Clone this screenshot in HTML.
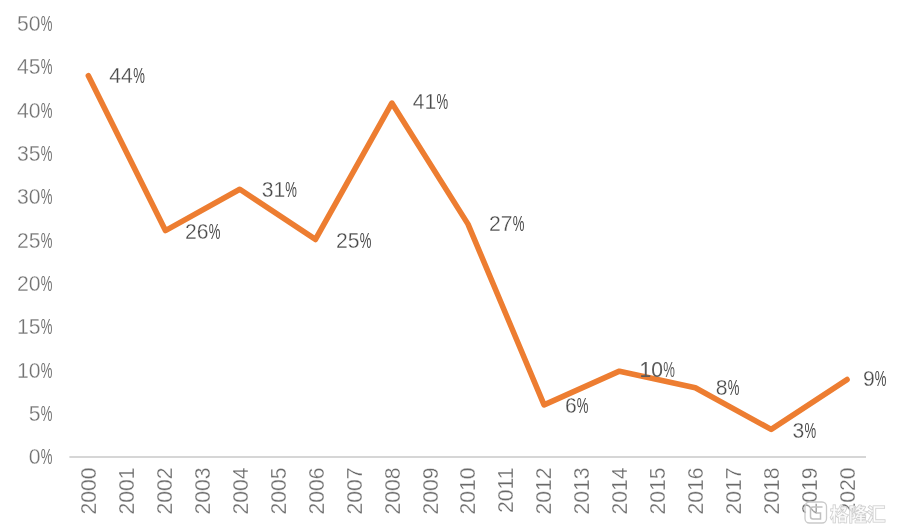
<!DOCTYPE html>
<html><head><meta charset="utf-8"><style>
html,body{margin:0;padding:0;background:#fff;width:900px;height:530px;overflow:hidden}
svg{display:block;filter:blur(0.35px)}
text{font-family:"Liberation Sans","Noto Sans CJK SC",sans-serif;font-size:22.5px}
.t text{stroke:#fff;stroke-width:0.3px}
.t text.p{stroke:none}
</style></head><body>
<svg width="900" height="530" viewBox="0 0 900 530">
<defs><filter id="wmsh" x="-10%" y="-20%" width="120%" height="140%"><feGaussianBlur stdDeviation="0.5"/></filter></defs>
<rect width="900" height="530" fill="#fff"/>
<g class="t">
<text transform="translate(17.01,31.15) scale(0.94,1)" fill="#737373">50</text><text transform="translate(40.81,31.15) scale(0.583,1)" fill="#737373" class="p">%</text>
<text transform="translate(17.07,74.46) scale(0.94,1)" fill="#737373">45</text><text transform="translate(40.81,74.46) scale(0.583,1)" fill="#737373" class="p">%</text>
<text transform="translate(17.01,117.77) scale(0.94,1)" fill="#737373">40</text><text transform="translate(40.81,117.77) scale(0.583,1)" fill="#737373" class="p">%</text>
<text transform="translate(17.07,161.08) scale(0.94,1)" fill="#737373">35</text><text transform="translate(40.81,161.08) scale(0.583,1)" fill="#737373" class="p">%</text>
<text transform="translate(17.01,204.39) scale(0.94,1)" fill="#737373">30</text><text transform="translate(40.81,204.39) scale(0.583,1)" fill="#737373" class="p">%</text>
<text transform="translate(17.07,247.70) scale(0.94,1)" fill="#737373">25</text><text transform="translate(40.81,247.70) scale(0.583,1)" fill="#737373" class="p">%</text>
<text transform="translate(17.01,291.01) scale(0.94,1)" fill="#737373">20</text><text transform="translate(40.81,291.01) scale(0.583,1)" fill="#737373" class="p">%</text>
<text transform="translate(17.07,334.32) scale(0.94,1)" fill="#737373">15</text><text transform="translate(40.81,334.32) scale(0.583,1)" fill="#737373" class="p">%</text>
<text transform="translate(17.01,377.63) scale(0.94,1)" fill="#737373">10</text><text transform="translate(40.81,377.63) scale(0.583,1)" fill="#737373" class="p">%</text>
<text transform="translate(28.84,420.94) scale(0.94,1)" fill="#737373">5</text><text transform="translate(40.81,420.94) scale(0.583,1)" fill="#737373" class="p">%</text>
<text transform="translate(28.77,464.25) scale(0.94,1)" fill="#737373">0</text><text transform="translate(40.81,464.25) scale(0.583,1)" fill="#737373" class="p">%</text>
</g>
<line x1="69.4" y1="457" x2="866.0" y2="457" stroke="#d6d6d6" stroke-width="2"/>
<g class="t">
<text transform="translate(96.12,467.50) rotate(-90) scale(0.94,1)" text-anchor="end" fill="#686868">2000</text>
<text transform="translate(134.05,467.50) rotate(-90) scale(0.94,1)" text-anchor="end" fill="#686868">2001</text>
<text transform="translate(171.98,467.50) rotate(-90) scale(0.94,1)" text-anchor="end" fill="#686868">2002</text>
<text transform="translate(209.92,467.50) rotate(-90) scale(0.94,1)" text-anchor="end" fill="#686868">2003</text>
<text transform="translate(247.85,467.50) rotate(-90) scale(0.94,1)" text-anchor="end" fill="#686868">2004</text>
<text transform="translate(285.78,467.50) rotate(-90) scale(0.94,1)" text-anchor="end" fill="#686868">2005</text>
<text transform="translate(323.72,467.50) rotate(-90) scale(0.94,1)" text-anchor="end" fill="#686868">2006</text>
<text transform="translate(361.65,467.50) rotate(-90) scale(0.94,1)" text-anchor="end" fill="#686868">2007</text>
<text transform="translate(399.58,467.50) rotate(-90) scale(0.94,1)" text-anchor="end" fill="#686868">2008</text>
<text transform="translate(437.52,467.50) rotate(-90) scale(0.94,1)" text-anchor="end" fill="#686868">2009</text>
<text transform="translate(475.45,467.50) rotate(-90) scale(0.94,1)" text-anchor="end" fill="#686868">2010</text>
<text transform="translate(513.38,467.50) rotate(-90) scale(0.94,1)" text-anchor="end" fill="#686868">2011</text>
<text transform="translate(551.32,467.50) rotate(-90) scale(0.94,1)" text-anchor="end" fill="#686868">2012</text>
<text transform="translate(589.25,467.50) rotate(-90) scale(0.94,1)" text-anchor="end" fill="#686868">2013</text>
<text transform="translate(627.18,467.50) rotate(-90) scale(0.94,1)" text-anchor="end" fill="#686868">2014</text>
<text transform="translate(665.12,467.50) rotate(-90) scale(0.94,1)" text-anchor="end" fill="#686868">2015</text>
<text transform="translate(703.05,467.50) rotate(-90) scale(0.94,1)" text-anchor="end" fill="#686868">2016</text>
<text transform="translate(740.98,467.50) rotate(-90) scale(0.94,1)" text-anchor="end" fill="#686868">2017</text>
<text transform="translate(778.92,467.50) rotate(-90) scale(0.94,1)" text-anchor="end" fill="#686868">2018</text>
<text transform="translate(816.85,467.50) rotate(-90) scale(0.94,1)" text-anchor="end" fill="#686868">2019</text>
<text transform="translate(854.78,467.50) rotate(-90) scale(0.94,1)" text-anchor="end" fill="#686868">2020</text>
</g>
<polyline points="88.37,75.67 165.43,230.59 239.80,189.28 315.47,239.45 391.83,103.06 468.00,224.13 544.07,404.83 619.43,371.18 695.30,387.80 771.17,429.41 847.03,379.54" fill="none" stroke="#ED7D31" stroke-width="5.6" stroke-linejoin="round" stroke-linecap="round"/>
<g class="t">
<text transform="translate(109.18,82.92) scale(0.94,1)" fill="#4a4a4a">44</text><text transform="translate(133.20,82.92) scale(0.583,1)" fill="#4a4a4a" class="p">%</text>
<text transform="translate(184.98,239.04) scale(0.94,1)" fill="#4a4a4a">26</text><text transform="translate(208.67,239.04) scale(0.583,1)" fill="#4a4a4a" class="p">%</text>
<text transform="translate(261.70,197.23) scale(0.94,1)" fill="#4a4a4a">31</text><text transform="translate(285.29,197.23) scale(0.583,1)" fill="#4a4a4a" class="p">%</text>
<text transform="translate(336.11,247.70) scale(0.94,1)" fill="#4a4a4a">25</text><text transform="translate(359.85,247.70) scale(0.583,1)" fill="#4a4a4a" class="p">%</text>
<text transform="translate(412.85,108.91) scale(0.94,1)" fill="#4a4a4a">41</text><text transform="translate(436.44,108.91) scale(0.583,1)" fill="#4a4a4a" class="p">%</text>
<text transform="translate(489.04,230.68) scale(0.94,1)" fill="#4a4a4a">27</text><text transform="translate(512.64,230.68) scale(0.583,1)" fill="#4a4a4a" class="p">%</text>
<text transform="translate(564.89,412.78) scale(0.94,1)" fill="#4a4a4a">6</text><text transform="translate(576.82,412.78) scale(0.583,1)" fill="#4a4a4a" class="p">%</text>
</g><text transform="translate(639.43,377.33) scale(0.94,1)" fill="#5a5a5a">10</text><text transform="translate(663.23,377.33) scale(0.583,1)" fill="#5a5a5a" class="p">%</text><g class="t">
<text transform="translate(715.69,394.66) scale(0.94,1)" fill="#4a4a4a">8</text><text transform="translate(727.65,394.66) scale(0.583,1)" fill="#4a4a4a" class="p">%</text>
<text transform="translate(792.46,437.57) scale(0.94,1)" fill="#4a4a4a">3</text><text transform="translate(804.40,437.57) scale(0.583,1)" fill="#4a4a4a" class="p">%</text>
<text transform="translate(862.91,386.39) scale(0.94,1)" fill="#4a4a4a">9</text><text transform="translate(874.78,386.39) scale(0.583,1)" fill="#4a4a4a" class="p">%</text>
</g>
<g filter="url(#wmsh)">
<rect x="805" y="502" width="21.5" height="21" rx="4.5" fill="#fff" fill-opacity="0.3" stroke="#cacaca" stroke-width="1.3"/>
<path d="M822.5 507 h-9.5 a2.5 2.5 0 0 0 -2.5 2.5 v7 a2.5 2.5 0 0 0 2.5 2.5 h7.5 v-6 h-4.5" fill="none" stroke="#c0c0c0" stroke-width="1.5"/>
<text x="830" y="520.8" fill="#fff" fill-opacity="0.6" stroke="#c8c8c8" stroke-width="1.1" paint-order="stroke" style="font-family:'Liberation Sans','Noto Sans CJK SC',sans-serif;font-size:18.5px;font-weight:700">格隆汇</text>
</g>
</svg>
</body></html>
